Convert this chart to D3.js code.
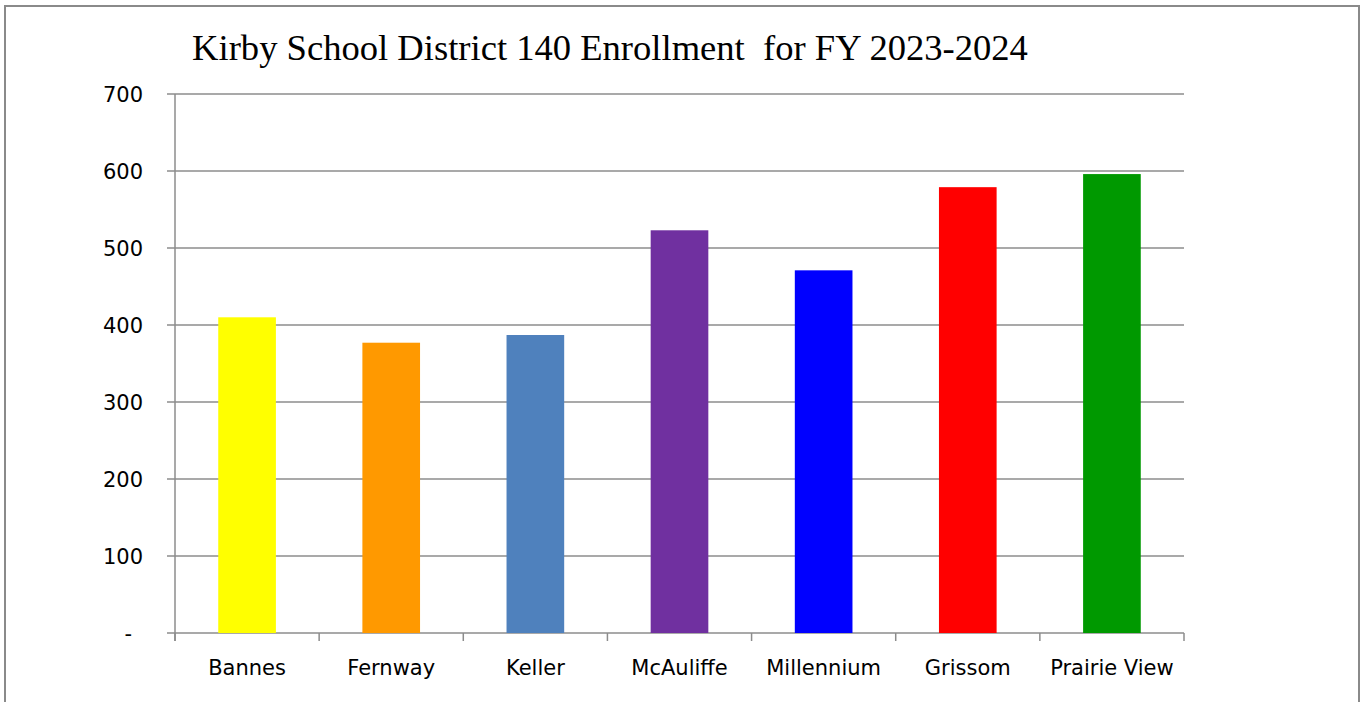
<!DOCTYPE html>
<html><head><meta charset="utf-8">
<script src="https://cdn.jsdelivr.net/npm/d3@7"></script>
<style>html,body{margin:0;padding:0;background:#fff;overflow:hidden}</style>
</head><body><svg id="c" width="1364" height="702"></svg>
<script>
const titleText = "Kirby School District 140 Enrollment  for FY 2023-2024";
const schools = ["Bannes","Fernway","Keller","McAuliffe","Millennium","Grissom","Prairie View"];
const enrollment = [410, 377, 387, 523, 471, 579, 596];
const barColors = ["#FFFF00","#FF9900","#4F81BD","#7030A0","#0000FF","#FF0000","#009900"];
const yTicks = [0,100,200,300,400,500,600,700];
const yTickLabels = ["-","100","200","300","400","500","600","700"];

const svg = d3.select("#c");
svg.append("rect").attr("x",5).attr("y",6).attr("width",1354).attr("height",720)
  .attr("fill","#fff").attr("stroke","#8a8a8a").attr("stroke-width",2);

const L=175, R=1184, T=94, B=633;
const x = d3.scaleBand().domain(schools).range([L,R]).paddingInner(0.6).paddingOuter(0.3);
const xb = d3.scaleBand().domain(schools).range([L,R]).padding(0);
const y = d3.scaleLinear().domain([0,700]).range([B,T]);

svg.append("g").selectAll("line").data(yTicks).join("line")
  .attr("x1",L-8).attr("x2",R).attr("y1",d=>y(d)).attr("y2",d=>y(d))
  .attr("stroke","#8c8c8c").attr("stroke-width",1.5);

svg.append("line").attr("x1",L).attr("x2",L).attr("y1",T).attr("y2",B+8)
  .attr("stroke","#8c8c8c").attr("stroke-width",1.5);
const bounds = schools.map(s=>xb(s)).concat([R]);
svg.append("g").selectAll("line").data(bounds).join("line")
  .attr("x1",d=>d).attr("x2",d=>d).attr("y1",B).attr("y2",B+8)
  .attr("stroke","#8c8c8c").attr("stroke-width",1.5);

svg.append("g").selectAll("rect").data(enrollment).join("rect")
  .attr("x",(d,i)=>x(schools[i])).attr("width",x.bandwidth())
  .attr("y",d=>y(d)).attr("height",d=>B-y(d))
  .attr("fill",(d,i)=>barColors[i]);

svg.append("g").selectAll("text").data(yTicks).join("text")
  .attr("x",(d,i)=>yTickLabels[i]==="-"?132:143).attr("y",d=>y(d)+7.5).attr("text-anchor","end")
  .attr("font-family","DejaVu Sans").attr("font-size",21).attr("fill","#000")
  .text((d,i)=>yTickLabels[i]);

svg.append("g").selectAll("text").data(schools).join("text")
  .attr("x",d=>xb(d)+xb.bandwidth()/2).attr("y",675).attr("text-anchor","middle")
  .attr("font-family","DejaVu Sans").attr("font-size",21).attr("fill","#000")
  .text(d=>d);

svg.append("text").attr("x",610).attr("y",60).attr("text-anchor","middle")
  .attr("font-family","Liberation Serif").attr("font-size",36.6).attr("fill","#000")
  .attr("xml:space","preserve").style("white-space","pre")
  .text(titleText);
</script></body></html>
